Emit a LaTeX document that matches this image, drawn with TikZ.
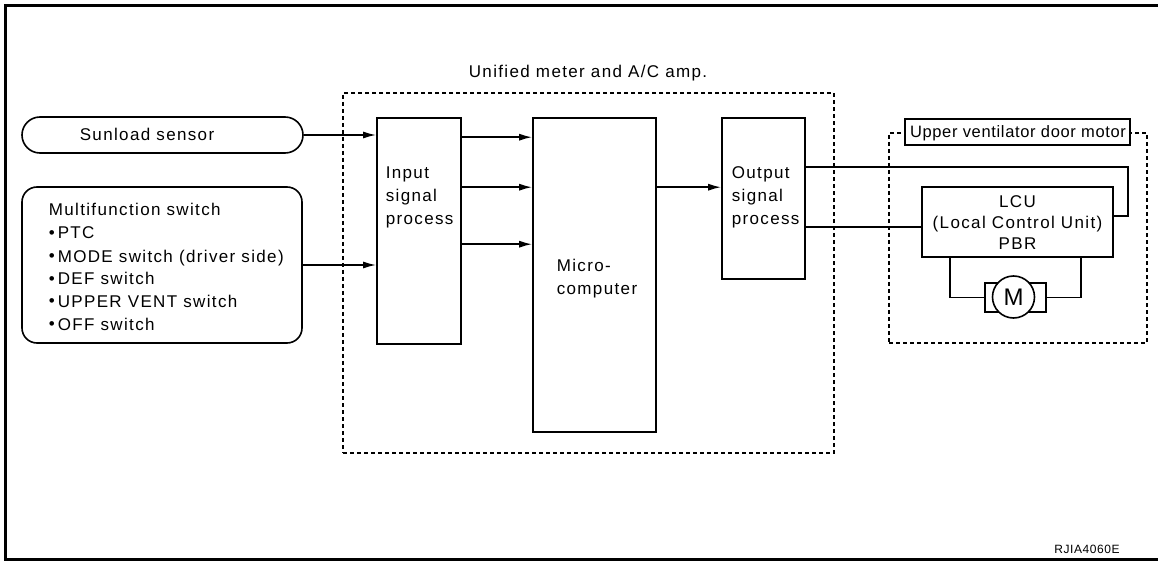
\documentclass[tikz,border=0pt]{standalone}
\usepackage{fontspec}
\setmainfont{Liberation Sans}[LetterSpace=8]
\newfontfamily\labelfont{Liberation Sans}[LetterSpace=4]
\newfontfamily\smallfont{Liberation Sans}[LetterSpace=5]
\usetikzlibrary{arrows.meta,calc}
\newcommand{\bul}{\raisebox{0.5pt}{\textbullet}\hspace{3pt}}
\begin{document}
\begin{tikzpicture}[x=1pt,y=-1pt,
  line width=1.6pt,
  box/.style={draw,rectangle,inner sep=0pt,line width=1.6pt},
  dbox/.style={draw,rectangle,inner sep=0pt,line width=1.5pt,dash pattern=on 4pt off 3pt},
  txt/.style={inner sep=0pt,anchor=base west,font=\fontsize{17}{19}\selectfont},
  ctxt/.style={inner sep=0pt,anchor=base,font=\fontsize{17}{19}\selectfont},
  arr/.style={-{Latex[length=13pt,width=7pt]},line width=1.6pt},
  wire/.style={line width=1.6pt}]
\useasboundingbox (0,0) rectangle (1158,561);
% frame
\coordinate (f1) at (1158,5.5);
\coordinate (f2) at (5.5,5.5);
\coordinate (f3) at (5.5,559.5);
\coordinate (f4) at (1158,559.5);
\draw[line width=3pt] (f1) -- (f2) -- (f3) -- (f4);

% dashed enclosures
\node[dbox,minimum width=491pt,minimum height=360pt] (amp) at (588.5,273) {};
\node[ctxt] (amplbl) at (588,78) {Unified meter and A/C amp.};
\node[dbox,minimum width=258pt,minimum height=210pt] (udm) at (1018,238) {};
\node[box,fill=white,minimum width=225pt,minimum height=26pt] (udmlbl) at (1017.5,132) {};
\node[inner sep=0pt,anchor=base,font=\fontsize{16.5}{19}\selectfont\labelfont] (udmtxt) at (1018,138) {Upper ventilator door motor};

% left inputs
\node[box,rounded corners=18pt,minimum width=281pt,minimum height=36pt] (sun) at (162.5,135) {};
\node[txt] (suntxt) at (79,141) {Sunload sensor};
\node[box,rounded corners=15pt,minimum width=280pt,minimum height=156pt] (mfs) at (162,265) {};
\node[txt] (m0) at (48,216) {Multifunction switch};
\node[txt] (m1) at (48,239) {\bul PTC};
\node[txt] (m2) at (48,262) {\bul MODE switch (driver side)};
\node[txt] (m3) at (48,284.5) {\bul DEF switch};
\node[txt] (m4) at (48,307) {\bul UPPER VENT switch};
\node[txt] (m5) at (48,330) {\bul OFF switch};

% inner blocks
\node[box,minimum width=84pt,minimum height=226pt] (in) at (419,231) {};
\node[txt] (in1) at (385,179) {Input};
\node[txt] (in2) at (385,202) {signal};
\node[txt] (in3) at (385,225) {process};
\node[box,minimum width=123pt,minimum height=314pt] (mc) at (594.5,275) {};
\node[txt] (mc1) at (556,271) {Micro-};
\node[txt] (mc2) at (556,294) {computer};
\node[box,minimum width=83pt,minimum height=161pt] (out) at (763.5,198.5) {};
\node[txt] (out1) at (731,179) {Output};
\node[txt] (out2) at (731,202) {signal};
\node[txt] (out3) at (731,225) {process};

% LCU and motor
\node[box,minimum width=191pt,minimum height=70pt] (lcu) at (1017.5,222) {};
\node[ctxt] (l1) at (1017.5,208) {LCU};
\node[ctxt] (l2) at (1017.5,229) {(Local Control Unit)};
\node[ctxt] (l3) at (1017.5,250) {PBR};
\node[box,minimum width=61pt,minimum height=29pt] (mot) at (1015.5,297.5) {};
\node[draw,circle,fill=white,line width=1.6pt,inner sep=0pt,minimum size=42pt,font=\fontsize{24}{26}\selectfont] (motc) at (1013.5,297) {M};

% connectors
\draw[arr] (sun.east) -- (sun.east -| in.west);
\draw[arr] (mfs.east) -- (mfs.east -| in.west);
\coordinate (a1) at ($(in.north east)+(0,20)$);
\coordinate (a2) at ($(in.north east)+(0,70)$);
\coordinate (a3) at ($(in.north east)+(0,127)$);
\draw[arr] (a1) -- (a1 -| mc.west);
\draw[arr] (a2) -- (a2 -| mc.west);
\draw[arr] (a3) -- (a3 -| mc.west);
\coordinate (b1) at ($(mc.north east)+(0,70)$);
\draw[arr] (b1) -- (b1 -| out.west);
\coordinate (o1) at ($(out.north east)+(0,50)$);
\coordinate (o2) at ($(out.north east)+(0,110)$);
\coordinate (lcuin) at ($(lcu.east)+(0,-6)$);
\coordinate (turn) at ($(lcu.east)+(14,-6)$);
\draw[wire] (o1) -| (turn) -- (lcuin);
\draw[wire] (o2) -- (o2 -| lcu.west);
\coordinate (w1) at ($(lcu.south west)+(29,0)$);
\coordinate (w2) at ($(lcu.south east)+(-33,0)$);
\draw[wire] (w1) |- (mot.west);
\draw[wire] (w2) |- (mot.east);

% code
\node[inner sep=0pt,anchor=base,font=\fontsize{12}{13}\selectfont\smallfont] (code) at (1087,553) {RJIA4060E};
\end{tikzpicture}
\end{document}
